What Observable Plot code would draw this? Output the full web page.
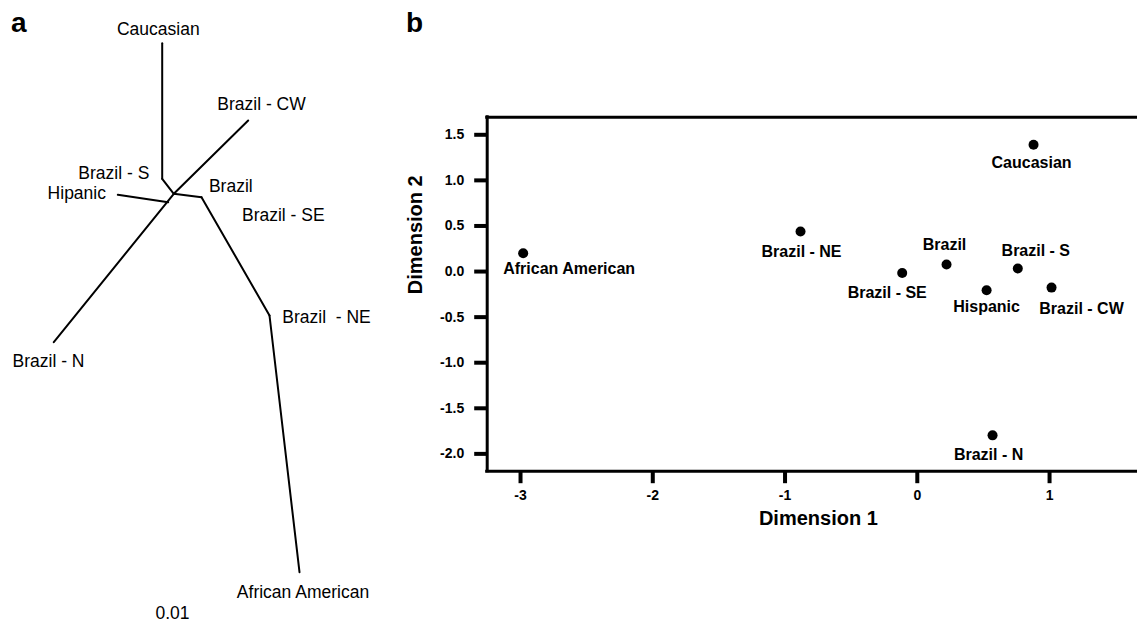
<!DOCTYPE html>
<html>
<head>
<meta charset="utf-8">
<script src="https://cdn.jsdelivr.net/npm/d3@7"></script>
<script src="https://cdn.jsdelivr.net/npm/@observablehq/plot@0.6"></script>
<style>
  html, body { margin: 0; padding: 0; background: #fff; }
  #wrap { position: relative; width: 1137px; height: 623px; overflow: hidden; font-family: "Liberation Sans", Arial, Helvetica, sans-serif; }
  .panel-letter { position: absolute; font-weight: bold; font-size: 28px; line-height: 1; color: #000; }
  #pa, #pb { position: absolute; top: 0; }
  #pa { left: 0; }
  #pb { left: 390px; }
</style>
</head>
<body>
<div id="wrap">
  <div class="panel-letter" style="left:11px; top:9px;">a</div>
  <div class="panel-letter" style="left:406px; top:9px;">b</div>
  <div id="pa"></div>
  <div id="pb"></div>
</div>
<script>
// ---------- Panel a: unrooted tree (layout coordinates) ----------
const treeNodeIds = ["cauc", "caucBend", "hub", "cw", "north", "hip", "hipJoin", "brazil", "ne", "afam"];
const treeNodeX   = [161.7, 161.7, 173.3, 247.7, 53.3, 117.3, 167.7, 201.0, 269.0, 299.0];
const treeNodeY   = [42.7, 178.3, 193.3, 120.0, 341.7, 194.3, 201.7, 196.7, 315.0, 571.7];
const treeEdgeFrom = ["cauc", "caucBend", "hub", "hub", "hip", "hub", "brazil", "ne"];
const treeEdgeTo   = ["caucBend", "hub", "cw", "north", "hipJoin", "brazil", "ne", "afam"];

const treeLabels = ["Caucasian", "Brazil - CW", "Brazil - S", "Hipanic", "Brazil", "Brazil - SE", "Brazil  - NE", "Brazil - N", "African American", "0.01"];
const treeLabelX = [157.8, 261.0, 113.3, 76.3, 230.3, 282.8, 326.0, 48.0, 302.5, 172.0];
const treeLabelY = [29.3, 104.3, 172.7, 193.3, 185.7, 215.0, 316.7, 361.0, 591.7, 613.3];

// ---------- Panel b: MDS scatter ----------
const groups = ["Caucasian", "Brazil - NE", "African American", "Brazil", "Brazil - SE", "Brazil - S", "Hispanic", "Brazil - CW", "Brazil - N"];
const dim1   = [0.879, -0.883, -2.98, 0.221, -0.114, 0.760, 0.524, 1.015, 0.569];
const dim2   = [1.39, 0.44, 0.20, 0.077, -0.015, 0.033, -0.205, -0.176, -1.797];
const xTicks = [-3, -2, -1, 0, 1];
const yTicks = [-2.0, -1.5, -1.0, -0.5, 0.0, 0.5, 1.0, 1.5];
const xDomain = [-3.252, 1.665];
const yDomain = [-2.19, 1.693];

// label placement (pixel offsets from each point), layout only
const labelDx = [-2, 1, 46, -2, -15, 18, 0, 30, -4];
const labelDy = [18, 20, 16, -20, 20, -18, 17, 21, 20];

const FONT = "'Liberation Sans', Arial, Helvetica, sans-serif";

// tick glyphs as custom symbols (pixel lengths)
const leftTick = {draw(ctx) { ctx.moveTo(-13, 0); ctx.lineTo(0, 0); }};
const downTick = {draw(ctx) { ctx.moveTo(0, 0); ctx.lineTo(0, 12); }};

// build tree tables
const nodeMap = new Map(treeNodeIds.map((id, i) => [id, {x: treeNodeX[i], y: treeNodeY[i]}]));
const edges = treeEdgeFrom.map((f, i) => ({
  x1: nodeMap.get(f).x, y1: nodeMap.get(f).y,
  x2: nodeMap.get(treeEdgeTo[i]).x, y2: nodeMap.get(treeEdgeTo[i]).y
}));
const tLabels = treeLabels.map((t, i) => ({t, x: treeLabelX[i], y: treeLabelY[i]}));

const plotA = Plot.plot({
  width: 390, height: 623,
  margin: 0,
  x: {domain: [0, 390], range: [0, 390], axis: null},
  y: {domain: [0, 623], range: [0, 623], axis: null},
  style: {fontFamily: FONT, background: "transparent"},
  marks: [
    Plot.link(edges, {x1: "x1", y1: "y1", x2: "x2", y2: "y2", stroke: "#000", strokeWidth: 2, strokeLinecap: "round"}),
    Plot.text(tLabels, {x: "x", y: "y", text: "t", fontSize: 17.5, fill: "#000"})
  ]
});
document.getElementById("pa").appendChild(plotA);

// build scatter table
const pts = groups.map((g, i) => ({g, x: dim1[i], y: dim2[i]}));

const labelMarks = pts.map((p, i) =>
  Plot.text([p], {x: "x", y: "y", text: "g", dx: labelDx[i], dy: labelDy[i], fontSize: 16, fontWeight: "bold", fill: "#000"})
);

const plotB = Plot.plot({
  width: 747, height: 623,
  marginLeft: 96.7, marginRight: 0, marginTop: 116.7, marginBottom: 152.3,
  x: {domain: xDomain, axis: null},
  y: {domain: yDomain, axis: null},
  style: {fontFamily: FONT, background: "transparent", overflow: "visible"},
  marks: [
    // frame: top, bottom, left
    Plot.ruleY(yDomain, {stroke: "#000", strokeWidth: 3, strokeLinecap: "square"}),
    Plot.ruleX([xDomain[0]], {stroke: "#000", strokeWidth: 3, strokeLinecap: "square"}),
    // y ticks + labels
    Plot.dot(yTicks, {y: d => d, frameAnchor: "left", symbol: leftTick, stroke: "#000", strokeWidth: 4, fill: "none"}),
    Plot.text(yTicks, {y: d => d, frameAnchor: "left", textAnchor: "end", dx: -23, text: d => d.toFixed(1), fontSize: 14, fontWeight: "bold", fill: "#000"}),
    // x ticks + labels
    Plot.dot(xTicks, {x: d => d, frameAnchor: "bottom", symbol: downTick, stroke: "#000", strokeWidth: 4, fill: "none"}),
    Plot.text(xTicks, {x: d => d, frameAnchor: "bottom", lineAnchor: "top", dy: 19, text: d => String(d), fontSize: 14, fontWeight: "bold", fill: "#000"}),
    // axis titles
    Plot.text(["Dimension 1"], {text: d => d, frameAnchor: "bottom", lineAnchor: "middle", dx: 6, dy: 47, fontSize: 20, fontWeight: "bold", fill: "#000"}),
    Plot.text(["Dimension 2"], {text: d => d, frameAnchor: "left", lineAnchor: "middle", rotate: -90, dx: -72, fontSize: 20, fontWeight: "bold", fill: "#000"}),
    // points + labels
    Plot.dot(pts, {x: "x", y: "y", r: 5, fill: "#000", stroke: "none"}),
    ...labelMarks
  ]
});
document.getElementById("pb").appendChild(plotB);
</script>
</body>
</html>
